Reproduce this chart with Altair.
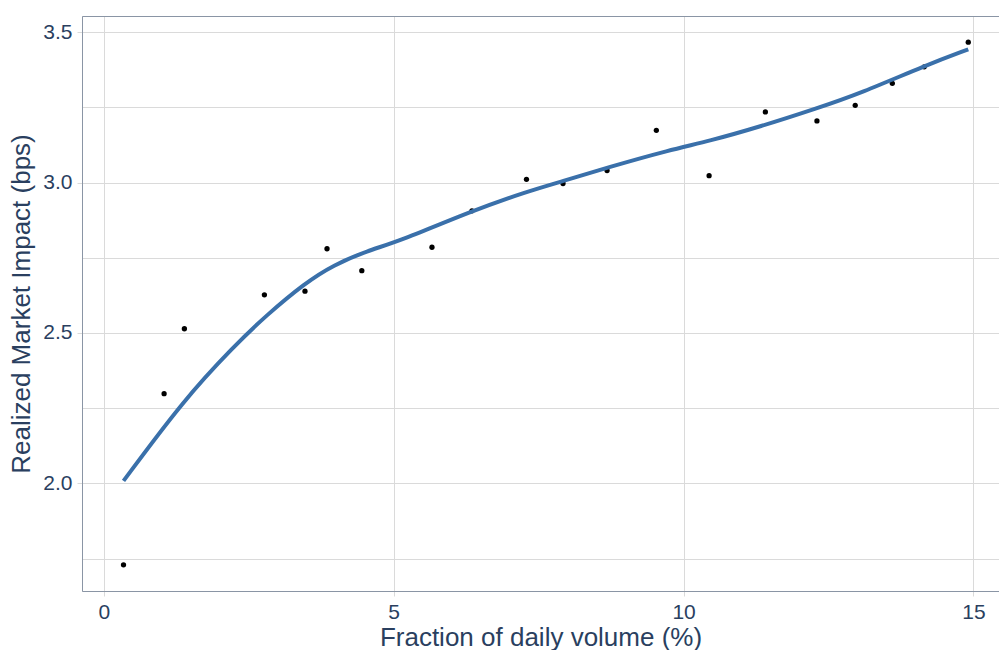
import altair as alt
import pandas as pd

# Observed points
pts_x = [0.34, 1.04, 1.39, 2.77, 3.47, 3.85, 4.45, 5.66, 6.35, 7.29,
         7.92, 8.68, 9.53, 10.44, 11.41, 12.30, 12.96, 13.60, 14.15, 14.91]
pts_y = [1.729, 2.298, 2.514, 2.627, 2.639, 2.780, 2.707, 2.785, 2.906, 3.011,
         2.997, 3.040, 3.174, 3.023, 3.235, 3.205, 3.257, 3.330, 3.385, 3.467]

# Smoothed fit
fit_x = [0.34, 1.38, 2.24, 2.81, 3.47, 3.96, 4.54, 5.11, 6.35, 7.29, 7.92,
         8.68, 9.77, 10.44, 11.32, 12.30, 13.05, 14.19, 14.91]
fit_y = [2.008, 2.278, 2.455, 2.560, 2.666, 2.726, 2.773, 2.806, 2.906, 2.970, 3.005,
         3.050, 3.109, 3.138, 3.186, 3.247, 3.297, 3.391, 3.443]

x_ticks = [0, 5, 10, 15]
y_grid = [1.75, 2.0, 2.25, 2.5, 2.75, 3.0, 3.25, 3.5]

pts = pd.DataFrame({"x": pts_x, "y": pts_y})
fit = pd.DataFrame({"x": fit_x, "y": fit_y})

FONT = "Liberation Sans"
TXT = "#2a3f5f"
DOM = "#8a95a5"
GRID = "#dadada"

xscale = alt.Scale(domain=[-0.376, 15.44], nice=False, zero=False)
yscale = alt.Scale(domain=[1.642, 3.554], nice=False, zero=False)

x_axis = alt.Axis(values=x_ticks, title="Fraction of daily volume (%)", grid=True,
                  gridColor=GRID, domainColor=DOM, tickColor=GRID, tickSize=5,
                  labelFontSize=21, titleFontSize=26, labelColor=TXT, titleColor=TXT,
                  labelFont=FONT, titleFont=FONT, titleFontWeight="normal",
                  labelPadding=5, titlePadding=2, format="d")
y_axis = alt.Axis(values=y_grid, title="Realized Market Impact (bps)", grid=True,
                  gridColor=GRID, domainColor=DOM, tickColor=GRID, tickSize=5,
                  tickOpacity={"condition": {"test": "datum.value % 0.5 !== 0", "value": 0}, "value": 1},
                  labelExpr="datum.value % 0.5 === 0 ? format(datum.value, '.1f') : ''",
                  labelFontSize=21, titleFontSize=26, labelColor=TXT, titleColor=TXT,
                  labelFont=FONT, titleFont=FONT, titleFontWeight="normal",
                  labelPadding=5, titlePadding=8)

points = alt.Chart(pts).mark_circle(color="black", opacity=1, size=28).encode(
    x=alt.X("x:Q", scale=xscale, axis=x_axis),
    y=alt.Y("y:Q", scale=yscale, axis=y_axis),
)

top_axis = alt.Axis(orient="top", labels=False, ticks=False, grid=False, title=None,
                    domainColor=DOM)
line = alt.Chart(fit).mark_line(color="#3a70aa", strokeWidth=4, interpolate="basis").encode(
    x=alt.X("x:Q", scale=xscale, axis=top_axis),
    y=alt.Y("y:Q", scale=yscale),
)

chart = alt.layer(points, line).resolve_axis(x="independent").properties(
    width=917, height=575,
    autosize=alt.AutoSizeParams(type="none"),
    padding={"left": 82, "top": 16, "right": 0, "bottom": 59},
).configure_view(stroke=None).configure(background="white")

chart.save("out.html", embed_options={"renderer": "svg", "actions": False})
